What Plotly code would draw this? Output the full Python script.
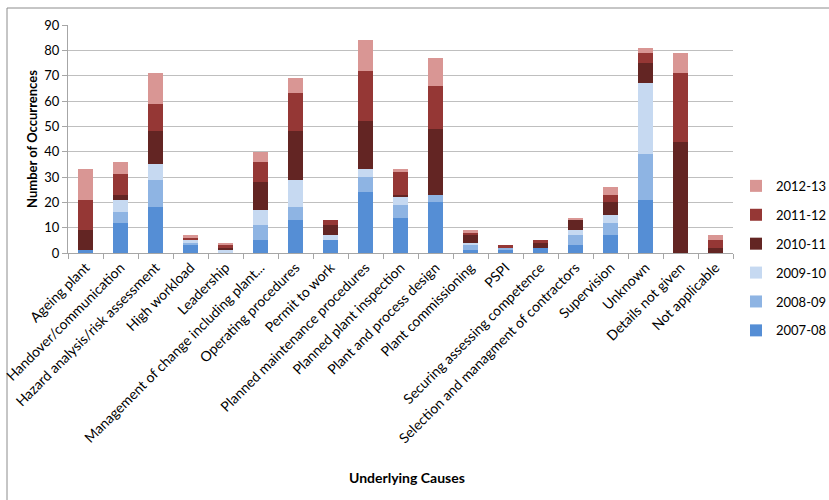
import plotly.graph_objects as go

# Underlying causes of incidents, counted per reporting year
causes = [
    "Ageing plant", "Handover/communication", "Hazard analysis/risk assessment",
    "High workload", "Leadership", "Management of change including plant...",
    "Operating procedures", "Permit to work", "Planned maintenance procedures",
    "Planned plant inspection", "Plant and process design", "Plant commissioning",
    "PSPI", "Securing assessing competence", "Selection and managment of contractors",
    "Supervision", "Unknown", "Details not given", "Not applicable",
]

y2007_08 = [1, 12, 18, 3, 0, 5, 13, 5, 24, 14, 20, 1, 1, 2, 3, 7, 21, 0, 0]
y2008_09 = [0, 4, 11, 1, 0, 6, 5, 0, 6, 5, 3, 2, 1, 0, 4, 5, 18, 0, 0]
y2009_10 = [0, 5, 6, 1, 1, 6, 11, 2, 3, 3, 0, 1, 0, 0, 2, 3, 28, 0, 0]
y2010_11 = [8, 2, 13, 0, 1, 11, 19, 4, 19, 1, 26, 3, 0, 2, 4, 5, 8, 44, 2]
y2011_12 = [12, 8, 11, 1, 1, 8, 15, 2, 20, 9, 17, 1, 1, 1, 0, 3, 4, 27, 3]
y2012_13 = [12, 5, 12, 1, 1, 4, 6, 0, 12, 1, 11, 1, 0, 0, 1, 3, 2, 8, 2]

series = [
    ("2007-08", y2007_08, "#558ED5"),
    ("2008-09", y2008_09, "#8EB4E3"),
    ("2009-10", y2009_10, "#C6D9F1"),
    ("2010-11", y2010_11, "#632523"),
    ("2011-12", y2011_12, "#953735"),
    ("2012-13", y2012_13, "#D99694"),
]

FONT = "Lato"
L, R, T, B = 68, 733, 25, 253  # plot area edges in pixels
PW, PH = R - L, B - T

fig = go.Figure()
for i, (name, vals, color) in enumerate(series):
    fig.add_trace(go.Bar(
        x=causes, y=vals, name=name, legendgroup=name,
        legendrank=len(series) - i,
        marker=dict(color=color, line=dict(width=0)),
    ))

fig.update_layout(
    width=829, height=500,
    barmode="stack", bargap=0.58,
    paper_bgcolor="white", plot_bgcolor="white",
    margin=dict(l=L, r=829 - R, t=T, b=500 - B, autoexpand=False),
    font=dict(family=FONT, size=12, color="#000000"),
    legend=dict(
        x=(736 - L) / PW, y=0.36, xanchor="left", yanchor="top",
        traceorder="grouped", tracegroupgap=9,
        font=dict(family=FONT, size=13, color="#000000"),
        itemwidth=30,
    ),
    xaxis=dict(
        tickangle=-45, tickson="boundaries", ticks="outside", ticklen=5,
        tickcolor="#A6A6A6", showline=True, linecolor="#A6A6A6", linewidth=1,
        showgrid=False,
        tickfont=dict(family=FONT, size=14),
    ),
    yaxis=dict(
        range=[0, 90], dtick=10, ticks="outside", ticklen=5,
        tickcolor="#A6A6A6", showline=True, linecolor="#A6A6A6", linewidth=1,
        showgrid=True, gridcolor="#BFBFBF", gridwidth=1, zeroline=False,
        tickfont=dict(family=FONT, size=13),
        title=dict(text="<b>Number of Occurrences</b>", font=dict(family=FONT, size=13), standoff=3),
    ),
)

# x-axis title placed below the rotated category labels
fig.add_annotation(
    text="<b>Underlying Causes</b>", xref="paper", yref="paper",
    x=(407 - L) / PW, y=(B - 477) / PH, xanchor="center", yanchor="middle",
    showarrow=False, font=dict(family=FONT, size=14),
)

# thin frame around the chart area (runs off the right and bottom edges)
fig.add_shape(
    type="rect", xref="paper", yref="paper",
    x0=(7 - L) / PW, x1=(840 - L) / PW,
    y0=(B - 510) / PH, y1=(B - 8) / PH,
    line=dict(color="#8C8C8C", width=1), fillcolor="rgba(0,0,0,0)", layer="below",
)

fig.write_html("out.html")
